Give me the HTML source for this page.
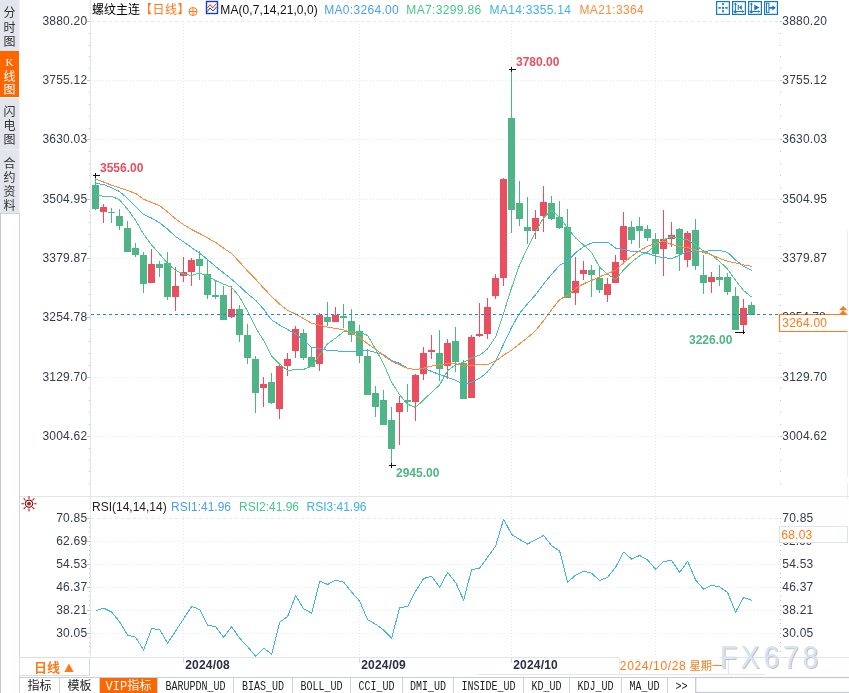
<!DOCTYPE html><html><head><meta charset="utf-8"><title>螺纹主连 日线</title>
<style>html,body{margin:0;padding:0;background:#fff}body{width:849px;height:693px;overflow:hidden;position:relative;font-family:"Liberation Sans","Noto Sans CJK SC",sans-serif}svg{position:absolute;left:0;top:0;display:block}text{font-family:"Liberation Sans","Noto Sans CJK SC",sans-serif}.mono{font-family:"Liberation Mono","Noto Sans CJK SC",monospace}</style></head><body>
<svg width="849" height="693" viewBox="0 0 849 693">
<rect width="849" height="693" fill="#fff"/>
<g id="sidebar">
<rect x="0" y="0" width="19.5" height="51" fill="#e3e5ec"/>
<rect x="0" y="51" width="19" height="46" fill="#ff6600"/>
<rect x="0" y="98" width="19.5" height="51" fill="#e3e5ec"/>
<rect x="0" y="150" width="19.5" height="63" fill="#e3e5ec"/>
<rect x="0" y="149" width="19.5" height="1" fill="#eef0f4"/>
<rect x="0.5" y="213.5" width="19" height="480" fill="#fff" stroke="#cfd6e0"/><rect x="0" y="213" width="1" height="480" fill="#c3cad5"/>
<text x="9.5" y="17.4" font-size="12" fill="#333" text-anchor="middle">分</text>
<text x="9.5" y="31.7" font-size="12" fill="#333" text-anchor="middle">时</text>
<text x="9.5" y="45.9" font-size="12" fill="#333" text-anchor="middle">图</text>
<text x="9.5" y="65.6" font-size="11" fill="#fff" text-anchor="middle" style="font-family:&quot;Liberation Serif&quot;,serif">K</text>
<text x="9.5" y="81.0" font-size="12" fill="#fff" text-anchor="middle">线</text>
<text x="9.5" y="94.4" font-size="12" fill="#fff" text-anchor="middle">图</text>
<text x="9.5" y="115.7" font-size="12" fill="#333" text-anchor="middle">闪</text>
<text x="9.5" y="130.1" font-size="12" fill="#333" text-anchor="middle">电</text>
<text x="9.5" y="143.7" font-size="12" fill="#333" text-anchor="middle">图</text>
<text x="9.5" y="168" font-size="12" fill="#333" text-anchor="middle">合</text>
<text x="9.5" y="181.9" font-size="12" fill="#333" text-anchor="middle">约</text>
<text x="9.5" y="195.9" font-size="12" fill="#333" text-anchor="middle">资</text>
<text x="9.5" y="210.1" font-size="12" fill="#333" text-anchor="middle">料</text>
</g>
<g id="grid" stroke="#e3eaf1" stroke-width="1" shape-rendering="crispEdges">
<line x1="91" y1="21.5" x2="779" y2="21.5" stroke-dasharray="3 3"/>
<line x1="91" y1="80.5" x2="779" y2="80.5" stroke-dasharray="1 2"/>
<line x1="91" y1="139.5" x2="779" y2="139.5" stroke-dasharray="1 2"/>
<line x1="91" y1="199.5" x2="779" y2="199.5" stroke-dasharray="1 2"/>
<line x1="91" y1="258.5" x2="779" y2="258.5" stroke-dasharray="1 2"/>
<line x1="91" y1="317.5" x2="779" y2="317.5" stroke-dasharray="1 2"/>
<line x1="91" y1="377.5" x2="779" y2="377.5" stroke-dasharray="1 2"/>
<line x1="91" y1="436.5" x2="779" y2="436.5" stroke-dasharray="1 2"/>
<line x1="183.5" y1="21" x2="183.5" y2="657" stroke-dasharray="1 2" stroke="#e3eaf1"/>
<line x1="359.5" y1="21" x2="359.5" y2="657" stroke-dasharray="1 2" stroke="#e3eaf1"/>
<line x1="511.5" y1="21" x2="511.5" y2="657" stroke-dasharray="1 2" stroke="#e3eaf1"/>
<line x1="655.5" y1="21" x2="655.5" y2="657" stroke-dasharray="1 2" stroke="#e3eaf1"/>
</g>
<g stroke="#dfe6ee" shape-rendering="crispEdges">
<line x1="90.5" y1="0" x2="90.5" y2="657"/>
<line x1="19" y1="657.5" x2="849" y2="657.5"/>
<line x1="20" y1="496.5" x2="849" y2="496.5"/>
<line x1="847.5" y1="231" x2="847.5" y2="477" stroke="#e9eef4"/>
<line x1="847.5" y1="483" x2="847.5" y2="499" stroke="#e9eef4"/>
</g>
<g fill="#bcc5cf">
<rect x="87" y="21" width="3" height="1"/><rect x="780" y="21" width="2" height="1"/>
<rect x="89" y="33" width="1" height="1"/><rect x="780" y="33" width="1" height="1"/>
<rect x="89" y="45" width="1" height="1"/><rect x="780" y="45" width="1" height="1"/>
<rect x="89" y="56" width="1" height="1"/><rect x="780" y="56" width="1" height="1"/>
<rect x="89" y="68" width="1" height="1"/><rect x="780" y="68" width="1" height="1"/>
<rect x="87" y="80" width="3" height="1"/><rect x="780" y="80" width="2" height="1"/>
<rect x="89" y="92" width="1" height="1"/><rect x="780" y="92" width="1" height="1"/>
<rect x="89" y="104" width="1" height="1"/><rect x="780" y="104" width="1" height="1"/>
<rect x="89" y="116" width="1" height="1"/><rect x="780" y="116" width="1" height="1"/>
<rect x="89" y="128" width="1" height="1"/><rect x="780" y="128" width="1" height="1"/>
<rect x="87" y="139" width="3" height="1"/><rect x="780" y="139" width="2" height="1"/>
<rect x="89" y="151" width="1" height="1"/><rect x="780" y="151" width="1" height="1"/>
<rect x="89" y="163" width="1" height="1"/><rect x="780" y="163" width="1" height="1"/>
<rect x="89" y="175" width="1" height="1"/><rect x="780" y="175" width="1" height="1"/>
<rect x="89" y="187" width="1" height="1"/><rect x="780" y="187" width="1" height="1"/>
<rect x="87" y="199" width="3" height="1"/><rect x="780" y="199" width="2" height="1"/>
<rect x="89" y="211" width="1" height="1"/><rect x="780" y="211" width="1" height="1"/>
<rect x="89" y="222" width="1" height="1"/><rect x="780" y="222" width="1" height="1"/>
<rect x="89" y="234" width="1" height="1"/><rect x="780" y="234" width="1" height="1"/>
<rect x="89" y="246" width="1" height="1"/><rect x="780" y="246" width="1" height="1"/>
<rect x="87" y="258" width="3" height="1"/><rect x="780" y="258" width="2" height="1"/>
<rect x="89" y="270" width="1" height="1"/><rect x="780" y="270" width="1" height="1"/>
<rect x="89" y="282" width="1" height="1"/><rect x="780" y="282" width="1" height="1"/>
<rect x="89" y="294" width="1" height="1"/><rect x="780" y="294" width="1" height="1"/>
<rect x="89" y="305" width="1" height="1"/><rect x="780" y="305" width="1" height="1"/>
<rect x="87" y="317" width="3" height="1"/><rect x="780" y="317" width="2" height="1"/>
<rect x="89" y="329" width="1" height="1"/><rect x="780" y="329" width="1" height="1"/>
<rect x="89" y="341" width="1" height="1"/><rect x="780" y="341" width="1" height="1"/>
<rect x="89" y="353" width="1" height="1"/><rect x="780" y="353" width="1" height="1"/>
<rect x="89" y="365" width="1" height="1"/><rect x="780" y="365" width="1" height="1"/>
<rect x="87" y="377" width="3" height="1"/><rect x="780" y="377" width="2" height="1"/>
<rect x="89" y="388" width="1" height="1"/><rect x="780" y="388" width="1" height="1"/>
<rect x="89" y="400" width="1" height="1"/><rect x="780" y="400" width="1" height="1"/>
<rect x="89" y="412" width="1" height="1"/><rect x="780" y="412" width="1" height="1"/>
<rect x="89" y="424" width="1" height="1"/><rect x="780" y="424" width="1" height="1"/>
<rect x="87" y="436" width="3" height="1"/><rect x="780" y="436" width="2" height="1"/>
<rect x="89" y="448" width="1" height="1"/><rect x="780" y="448" width="1" height="1"/>
<rect x="89" y="460" width="1" height="1"/><rect x="780" y="460" width="1" height="1"/>
<rect x="89" y="471" width="1" height="1"/><rect x="780" y="471" width="1" height="1"/>
<rect x="89" y="483" width="1" height="1"/><rect x="780" y="483" width="1" height="1"/>
<rect x="87" y="518" width="3" height="1"/><rect x="780" y="518" width="1" height="1"/>
<rect x="89" y="522" width="1" height="1"/><rect x="780" y="522" width="1" height="1"/>
<rect x="89" y="527" width="1" height="1"/><rect x="780" y="527" width="1" height="1"/>
<rect x="89" y="531" width="1" height="1"/><rect x="780" y="531" width="1" height="1"/>
<rect x="89" y="536" width="1" height="1"/><rect x="780" y="536" width="1" height="1"/>
<rect x="87" y="541" width="3" height="1"/><rect x="780" y="541" width="1" height="1"/>
<rect x="89" y="545" width="1" height="1"/><rect x="780" y="545" width="1" height="1"/>
<rect x="89" y="550" width="1" height="1"/><rect x="780" y="550" width="1" height="1"/>
<rect x="89" y="554" width="1" height="1"/><rect x="780" y="554" width="1" height="1"/>
<rect x="89" y="559" width="1" height="1"/><rect x="780" y="559" width="1" height="1"/>
<rect x="87" y="564" width="3" height="1"/><rect x="780" y="564" width="1" height="1"/>
<rect x="89" y="568" width="1" height="1"/><rect x="780" y="568" width="1" height="1"/>
<rect x="89" y="573" width="1" height="1"/><rect x="780" y="573" width="1" height="1"/>
<rect x="89" y="577" width="1" height="1"/><rect x="780" y="577" width="1" height="1"/>
<rect x="89" y="582" width="1" height="1"/><rect x="780" y="582" width="1" height="1"/>
<rect x="87" y="587" width="3" height="1"/><rect x="780" y="587" width="1" height="1"/>
<rect x="89" y="591" width="1" height="1"/><rect x="780" y="591" width="1" height="1"/>
<rect x="89" y="596" width="1" height="1"/><rect x="780" y="596" width="1" height="1"/>
<rect x="89" y="600" width="1" height="1"/><rect x="780" y="600" width="1" height="1"/>
<rect x="89" y="605" width="1" height="1"/><rect x="780" y="605" width="1" height="1"/>
<rect x="87" y="610" width="3" height="1"/><rect x="780" y="610" width="1" height="1"/>
<rect x="89" y="614" width="1" height="1"/><rect x="780" y="614" width="1" height="1"/>
<rect x="89" y="619" width="1" height="1"/><rect x="780" y="619" width="1" height="1"/>
<rect x="89" y="623" width="1" height="1"/><rect x="780" y="623" width="1" height="1"/>
<rect x="89" y="628" width="1" height="1"/><rect x="780" y="628" width="1" height="1"/>
<rect x="87" y="633" width="3" height="1"/><rect x="780" y="633" width="1" height="1"/>
<rect x="89" y="637" width="1" height="1"/><rect x="780" y="637" width="1" height="1"/>
<rect x="89" y="642" width="1" height="1"/><rect x="780" y="642" width="1" height="1"/>
<rect x="89" y="646" width="1" height="1"/><rect x="780" y="646" width="1" height="1"/>
<rect x="89" y="651" width="1" height="1"/><rect x="780" y="651" width="1" height="1"/>
</g>
<g font-size="12" fill="#333b4d" letter-spacing="0.22">
<text x="87.3" y="25.4" text-anchor="end">3880.20</text>
<text x="782.3" y="25.4">3880.20</text>
<text x="87.3" y="84.4" text-anchor="end">3755.12</text>
<text x="782.3" y="84.4">3755.12</text>
<text x="87.3" y="143.4" text-anchor="end">3630.03</text>
<text x="782.3" y="143.4">3630.03</text>
<text x="87.3" y="203.4" text-anchor="end">3504.95</text>
<text x="782.3" y="203.4">3504.95</text>
<text x="87.3" y="262.4" text-anchor="end">3379.87</text>
<text x="782.3" y="262.4">3379.87</text>
<text x="87.3" y="321.4" text-anchor="end">3254.78</text>
<text x="87.3" y="381.4" text-anchor="end">3129.70</text>
<text x="782.3" y="381.4">3129.70</text>
<text x="87.3" y="440.4" text-anchor="end">3004.62</text>
<text x="782.3" y="440.4">3004.62</text>
</g>
<g font-size="12">
<text x="92" y="14" fill="#000">螺纹主连</text>
<text x="140" y="14" fill="#ff7a1a" letter-spacing="0.5">【日线】</text>
<g stroke="#ff7a1a" fill="none" stroke-width="1"><circle cx="193" cy="11.5" r="4"/><line x1="189" y1="11.5" x2="197" y2="11.5"/><line x1="193" y1="7.5" x2="193" y2="15.5"/></g>
<g><rect x="206.5" y="1.5" width="11" height="12" fill="#fff" stroke="#1a3fb0" stroke-width="1.4"/><polyline points="207.5,8 210,4.5 212.5,8 216.5,3.5" fill="none" stroke="#e33" stroke-width="1"/><polyline points="207.5,11.5 210,8 213,11 216.5,7" fill="none" stroke="#1a3fb0" stroke-width="1"/></g>
<text x="220.3" y="13.6" fill="#111" textLength="97.5">MA(0,7,14,21,0,0)</text>
<text x="324.2" y="13.6" fill="#4a9ff0" textLength="74.5">MA0:3264.00</text>
<text x="406.3" y="13.6" fill="#43c88e" textLength="74.8">MA7:3299.86</text>
<text x="489.6" y="13.6" fill="#3cb2e8" textLength="81.3">MA14:3355.14</text>
<text x="579.5" y="13.6" fill="#ff8c3a" textLength="64.2">MA21:3364</text>
</g>
<g stroke="#1677c8" fill="none" stroke-width="1.2">
<rect x="716.6" y="1.6" width="12.8" height="12.8"/>
<rect x="732.6" y="1.6" width="12.8" height="12.8"/>
<rect x="748.6" y="1.6" width="12.8" height="12.8"/>
<rect x="764.6" y="1.6" width="12.8" height="12.8"/>
</g>
<g fill="#1677c8" stroke="none">
<rect x="722.2" y="3" width="1.6" height="2.2"/><rect x="722.2" y="10" width="1.6" height="2.4"/><rect x="718.4" y="7.1" width="2.4" height="1.6"/><rect x="725.2" y="7.1" width="2.5" height="1.6"/><rect x="722" y="6.9" width="2" height="2"/>
<rect x="734.9" y="3.5" width="1" height="9"/><rect x="734.4" y="11" width="9" height="1"/>
<path d="M735.4 2.6 L737 4.6 L733.8 4.6Z M735.4 13.4 L737 11.9 L733.8 11.9Z"/>
<path d="M744.2 11.5 L742.4 9.9 L742.4 13.1Z M733.4 11.5 L735 10.2 L735 12.8Z"/>
<rect x="750.9" y="3.5" width="1" height="9"/><rect x="750.4" y="11" width="9" height="1"/>
<path d="M751.4 2.6 L753 4.6 L749.8 4.6Z M751.4 13.4 L753 11.9 L749.8 11.9Z"/>
<path d="M760.2 11.5 L758.4 9.9 L758.4 13.1Z M749.4 11.5 L751 10.2 L751 12.8Z"/>
<rect x="737.7" y="4.9" width="1.1" height="5"/><path d="M739 7.4 L741.8 4.9 L741.8 9.9Z"/>
<path d="M754.3 4.7 L759.6 7.6 L754.3 10.5Z"/>
<rect x="766.5" y="3.2" width="2.4" height="9.2" fill="none" stroke="#1677c8" stroke-width="1"/><rect x="769" y="7" width="4" height="1.7"/><path d="M772.4 5.2 L775.8 7.85 L772.4 10.5Z"/>
</g>
<g id="candles" shape-rendering="crispEdges">
<rect x="95" y="176" width="1" height="34" fill="#4fb586"/>
<rect x="92" y="185" width="7" height="24" fill="#4fb586"/>
<rect x="103" y="204" width="1" height="19" fill="#ea4e5f"/>
<rect x="100" y="207" width="7" height="5" fill="#ea4e5f"/>
<rect x="111" y="208" width="1" height="15" fill="#4fb586"/>
<rect x="108" y="212" width="7" height="1" fill="#4fb586"/>
<rect x="119" y="209" width="1" height="21" fill="#4fb586"/>
<rect x="116" y="216" width="7" height="10" fill="#4fb586"/>
<rect x="127" y="221" width="1" height="31" fill="#4fb586"/>
<rect x="124" y="228" width="7" height="24" fill="#4fb586"/>
<rect x="135" y="243" width="1" height="14" fill="#4fb586"/>
<rect x="132" y="248" width="7" height="7" fill="#4fb586"/>
<rect x="143" y="252" width="1" height="41" fill="#4fb586"/>
<rect x="140" y="255" width="7" height="29" fill="#4fb586"/>
<rect x="151" y="249" width="1" height="34" fill="#ea4e5f"/>
<rect x="148" y="264" width="7" height="19" fill="#ea4e5f"/>
<rect x="159" y="261" width="1" height="16" fill="#4fb586"/>
<rect x="156" y="264" width="7" height="4" fill="#4fb586"/>
<rect x="167" y="252" width="1" height="48" fill="#4fb586"/>
<rect x="164" y="263" width="7" height="34" fill="#4fb586"/>
<rect x="175" y="267" width="1" height="44" fill="#ea4e5f"/>
<rect x="172" y="286" width="7" height="11" fill="#ea4e5f"/>
<rect x="183" y="257" width="1" height="25" fill="#ea4e5f"/>
<rect x="180" y="272" width="7" height="4" fill="#ea4e5f"/>
<rect x="191" y="258" width="1" height="28" fill="#ea4e5f"/>
<rect x="188" y="260" width="7" height="12" fill="#ea4e5f"/>
<rect x="199" y="251" width="1" height="29" fill="#4fb586"/>
<rect x="196" y="259" width="7" height="7" fill="#4fb586"/>
<rect x="207" y="259" width="1" height="40" fill="#4fb586"/>
<rect x="204" y="274" width="7" height="21" fill="#4fb586"/>
<rect x="215" y="280" width="1" height="19" fill="#4fb586"/>
<rect x="212" y="295" width="7" height="2" fill="#4fb586"/>
<rect x="223" y="286" width="1" height="34" fill="#4fb586"/>
<rect x="220" y="295" width="7" height="25" fill="#4fb586"/>
<rect x="231" y="286" width="1" height="32" fill="#ea4e5f"/>
<rect x="228" y="309" width="7" height="8" fill="#ea4e5f"/>
<rect x="239" y="305" width="1" height="37" fill="#4fb586"/>
<rect x="236" y="309" width="7" height="26" fill="#4fb586"/>
<rect x="247" y="324" width="1" height="40" fill="#4fb586"/>
<rect x="244" y="335" width="7" height="23" fill="#4fb586"/>
<rect x="255" y="356" width="1" height="57" fill="#4fb586"/>
<rect x="252" y="359" width="7" height="34" fill="#4fb586"/>
<rect x="263" y="377" width="1" height="30" fill="#ea4e5f"/>
<rect x="260" y="384" width="7" height="4" fill="#ea4e5f"/>
<rect x="271" y="373" width="1" height="31" fill="#4fb586"/>
<rect x="268" y="382" width="7" height="21" fill="#4fb586"/>
<rect x="279" y="364" width="1" height="55" fill="#ea4e5f"/>
<rect x="276" y="366" width="7" height="43" fill="#ea4e5f"/>
<rect x="287" y="353" width="1" height="23" fill="#ea4e5f"/>
<rect x="284" y="359" width="7" height="7" fill="#ea4e5f"/>
<rect x="295" y="326" width="1" height="32" fill="#ea4e5f"/>
<rect x="292" y="329" width="7" height="22" fill="#ea4e5f"/>
<rect x="303" y="329" width="1" height="31" fill="#4fb586"/>
<rect x="300" y="333" width="7" height="25" fill="#4fb586"/>
<rect x="311" y="348" width="1" height="19" fill="#4fb586"/>
<rect x="308" y="357" width="7" height="10" fill="#4fb586"/>
<rect x="319" y="313" width="1" height="58" fill="#ea4e5f"/>
<rect x="316" y="315" width="7" height="49" fill="#ea4e5f"/>
<rect x="327" y="302" width="1" height="24" fill="#4fb586"/>
<rect x="324" y="317" width="7" height="5" fill="#4fb586"/>
<rect x="335" y="307" width="1" height="15" fill="#ea4e5f"/>
<rect x="332" y="315" width="7" height="7" fill="#ea4e5f"/>
<rect x="343" y="304" width="1" height="24" fill="#4fb586"/>
<rect x="340" y="316" width="7" height="2" fill="#4fb586"/>
<rect x="351" y="309" width="1" height="33" fill="#4fb586"/>
<rect x="348" y="321" width="7" height="14" fill="#4fb586"/>
<rect x="359" y="325" width="1" height="38" fill="#4fb586"/>
<rect x="356" y="331" width="7" height="25" fill="#4fb586"/>
<rect x="367" y="349" width="1" height="46" fill="#4fb586"/>
<rect x="364" y="356" width="7" height="39" fill="#4fb586"/>
<rect x="375" y="386" width="1" height="31" fill="#4fb586"/>
<rect x="372" y="393" width="7" height="14" fill="#4fb586"/>
<rect x="383" y="390" width="1" height="35" fill="#4fb586"/>
<rect x="380" y="400" width="7" height="25" fill="#4fb586"/>
<rect x="391" y="407" width="1" height="58" fill="#4fb586"/>
<rect x="388" y="420" width="7" height="29" fill="#4fb586"/>
<rect x="399" y="396" width="1" height="49" fill="#ea4e5f"/>
<rect x="396" y="403" width="7" height="9" fill="#ea4e5f"/>
<rect x="407" y="384" width="1" height="28" fill="#4fb586"/>
<rect x="404" y="400" width="7" height="2" fill="#4fb586"/>
<rect x="415" y="374" width="1" height="47" fill="#ea4e5f"/>
<rect x="412" y="375" width="7" height="27" fill="#ea4e5f"/>
<rect x="423" y="347" width="1" height="33" fill="#ea4e5f"/>
<rect x="420" y="353" width="7" height="21" fill="#ea4e5f"/>
<rect x="431" y="335" width="1" height="24" fill="#ea4e5f"/>
<rect x="428" y="350" width="7" height="2" fill="#ea4e5f"/>
<rect x="439" y="330" width="1" height="51" fill="#4fb586"/>
<rect x="436" y="353" width="7" height="16" fill="#4fb586"/>
<rect x="447" y="339" width="1" height="40" fill="#ea4e5f"/>
<rect x="444" y="343" width="7" height="23" fill="#ea4e5f"/>
<rect x="455" y="327" width="1" height="45" fill="#4fb586"/>
<rect x="452" y="341" width="7" height="21" fill="#4fb586"/>
<rect x="463" y="360" width="1" height="39" fill="#4fb586"/>
<rect x="460" y="363" width="7" height="36" fill="#4fb586"/>
<rect x="471" y="335" width="1" height="63" fill="#ea4e5f"/>
<rect x="468" y="337" width="7" height="61" fill="#ea4e5f"/>
<rect x="479" y="303" width="1" height="34" fill="#ea4e5f"/>
<rect x="476" y="334" width="7" height="2" fill="#ea4e5f"/>
<rect x="487" y="298" width="1" height="41" fill="#ea4e5f"/>
<rect x="484" y="307" width="7" height="27" fill="#ea4e5f"/>
<rect x="495" y="274" width="1" height="25" fill="#ea4e5f"/>
<rect x="492" y="278" width="7" height="18" fill="#ea4e5f"/>
<rect x="503" y="178" width="1" height="108" fill="#ea4e5f"/>
<rect x="500" y="179" width="7" height="99" fill="#ea4e5f"/>
<rect x="511" y="69" width="1" height="164" fill="#4fb586"/>
<rect x="508" y="118" width="7" height="92" fill="#4fb586"/>
<rect x="519" y="181" width="1" height="45" fill="#4fb586"/>
<rect x="516" y="203" width="7" height="16" fill="#4fb586"/>
<rect x="527" y="197" width="1" height="47" fill="#4fb586"/>
<rect x="524" y="227" width="7" height="4" fill="#4fb586"/>
<rect x="535" y="210" width="1" height="29" fill="#ea4e5f"/>
<rect x="532" y="218" width="7" height="13" fill="#ea4e5f"/>
<rect x="543" y="186" width="1" height="46" fill="#ea4e5f"/>
<rect x="540" y="202" width="7" height="14" fill="#ea4e5f"/>
<rect x="551" y="196" width="1" height="24" fill="#4fb586"/>
<rect x="548" y="203" width="7" height="16" fill="#4fb586"/>
<rect x="559" y="201" width="1" height="28" fill="#4fb586"/>
<rect x="556" y="217" width="7" height="11" fill="#4fb586"/>
<rect x="567" y="209" width="1" height="89" fill="#4fb586"/>
<rect x="564" y="227" width="7" height="71" fill="#4fb586"/>
<rect x="575" y="257" width="1" height="48" fill="#ea4e5f"/>
<rect x="572" y="281" width="7" height="12" fill="#ea4e5f"/>
<rect x="583" y="261" width="1" height="19" fill="#ea4e5f"/>
<rect x="580" y="270" width="7" height="4" fill="#ea4e5f"/>
<rect x="591" y="265" width="1" height="32" fill="#4fb586"/>
<rect x="588" y="270" width="7" height="5" fill="#4fb586"/>
<rect x="599" y="267" width="1" height="26" fill="#4fb586"/>
<rect x="596" y="278" width="7" height="12" fill="#4fb586"/>
<rect x="607" y="278" width="1" height="24" fill="#ea4e5f"/>
<rect x="604" y="284" width="7" height="11" fill="#ea4e5f"/>
<rect x="615" y="255" width="1" height="28" fill="#ea4e5f"/>
<rect x="612" y="262" width="7" height="21" fill="#ea4e5f"/>
<rect x="623" y="212" width="1" height="51" fill="#ea4e5f"/>
<rect x="620" y="226" width="7" height="34" fill="#ea4e5f"/>
<rect x="631" y="221" width="1" height="23" fill="#4fb586"/>
<rect x="628" y="227" width="7" height="13" fill="#4fb586"/>
<rect x="639" y="217" width="1" height="31" fill="#4fb586"/>
<rect x="636" y="226" width="7" height="5" fill="#4fb586"/>
<rect x="647" y="225" width="1" height="16" fill="#4fb586"/>
<rect x="644" y="229" width="7" height="9" fill="#4fb586"/>
<rect x="655" y="233" width="1" height="31" fill="#4fb586"/>
<rect x="652" y="239" width="7" height="15" fill="#4fb586"/>
<rect x="663" y="210" width="1" height="66" fill="#ea4e5f"/>
<rect x="660" y="239" width="7" height="10" fill="#ea4e5f"/>
<rect x="671" y="222" width="1" height="25" fill="#ea4e5f"/>
<rect x="668" y="235" width="7" height="4" fill="#ea4e5f"/>
<rect x="679" y="228" width="1" height="43" fill="#4fb586"/>
<rect x="676" y="229" width="7" height="25" fill="#4fb586"/>
<rect x="687" y="231" width="1" height="36" fill="#ea4e5f"/>
<rect x="684" y="233" width="7" height="27" fill="#ea4e5f"/>
<rect x="695" y="219" width="1" height="51" fill="#4fb586"/>
<rect x="692" y="230" width="7" height="36" fill="#4fb586"/>
<rect x="703" y="255" width="1" height="39" fill="#4fb586"/>
<rect x="700" y="275" width="7" height="8" fill="#4fb586"/>
<rect x="711" y="272" width="1" height="21" fill="#ea4e5f"/>
<rect x="708" y="277" width="7" height="5" fill="#ea4e5f"/>
<rect x="719" y="265" width="1" height="21" fill="#4fb586"/>
<rect x="716" y="277" width="7" height="3" fill="#4fb586"/>
<rect x="727" y="273" width="1" height="22" fill="#4fb586"/>
<rect x="724" y="277" width="7" height="15" fill="#4fb586"/>
<rect x="735" y="287" width="1" height="43" fill="#4fb586"/>
<rect x="732" y="296" width="7" height="34" fill="#4fb586"/>
<rect x="743" y="299" width="1" height="34" fill="#ea4e5f"/>
<rect x="740" y="308" width="7" height="17" fill="#ea4e5f"/>
<rect x="751" y="302" width="1" height="13" fill="#4fb586"/>
<rect x="748" y="305" width="7" height="10" fill="#4fb586"/>
</g>
<polyline points="95.63,194.57 103.63,196.27 111.63,196.27 119.63,199.87 127.63,209.37 135.63,220.27 143.63,234.27 151.63,244.97 159.63,253.87 167.63,263.47 175.63,270.47 183.63,273.97 191.63,275.47 199.63,272.97 207.63,276.07 215.63,280.57 223.63,284.17 231.63,287.27 239.63,297.07 247.63,311.47 255.63,327.57 263.63,340.57 271.63,356.07 279.63,364.07 287.63,370.57 295.63,369.57 303.63,369.37 311.63,366.17 319.63,355.07 327.63,343.77 335.63,338.07 343.63,331.67 351.63,331.67 359.63,332.37 367.63,335.47 375.63,349.27 383.63,363.87 391.63,382.37 399.63,394.77 407.63,404.27 415.63,407.47 423.63,399.87 431.63,392.27 439.63,384.87 447.63,370.57 455.63,364.77 463.63,362.27 471.63,357.77 479.63,355.27 487.63,348.87 495.63,336.77 503.63,313.07 511.63,287.57 519.63,264.77 527.63,247.57 535.63,232.07 543.63,217.67 551.63,210.07 559.63,217.67 567.63,227.87 575.63,238.07 583.63,245.07 591.63,252.37 599.63,267.27 607.63,274.27 615.63,279.57 623.63,269.77 631.63,262.17 639.63,255.77 647.63,251.97 655.63,244.97 663.63,239.77 671.63,236.57 679.63,238.87 687.63,239.67 695.63,244.77 703.63,251.17 711.63,254.97 719.63,261.37 727.63,269.27 735.63,280.37 743.63,290.57 751.63,297.07" fill="none" stroke="#4ec98f" stroke-width="1.0" stroke-linejoin="round" shape-rendering="crispEdges"/>
<polyline points="95.63,183.37 103.63,184.57 111.63,187.77 119.63,191.57 127.63,198.57 135.63,206.87 143.63,214.47 151.63,218.07 159.63,222.77 167.63,229.17 175.63,236.57 183.63,241.87 191.63,247.57 199.63,253.27 207.63,259.57 215.63,266.57 223.63,272.97 231.63,279.27 239.63,286.27 247.63,293.87 255.63,300.27 263.63,309.17 271.63,319.97 279.63,325.07 287.63,329.47 295.63,333.97 303.63,340.27 311.63,347.57 319.63,348.37 327.63,350.47 335.63,350.67 343.63,351.67 351.63,351.67 359.63,350.77 367.63,350.47 375.63,352.27 383.63,354.77 391.63,360.37 399.63,363.47 407.63,368.37 415.63,369.57 423.63,368.37 431.63,371.47 439.63,374.67 447.63,377.37 455.63,380.27 463.63,384.27 471.63,382.27 479.63,378.27 487.63,371.87 495.63,361.17 503.63,344.07 511.63,327.27 519.63,313.27 527.63,303.57 535.63,294.67 543.63,283.87 551.63,274.37 559.63,265.37 567.63,260.97 575.63,252.67 583.63,246.67 591.63,243.07 599.63,242.17 607.63,242.17 615.63,248.17 623.63,249.37 631.63,251.37 639.63,251.67 647.63,253.27 655.63,256.37 663.63,257.57 671.63,258.57 679.63,255.37 687.63,251.37 695.63,251.37 703.63,251.77 711.63,250.27 719.63,250.27 727.63,252.37 735.63,260.07 743.63,266.37 751.63,270.47" fill="none" stroke="#41b4e6" stroke-width="1.0" stroke-linejoin="round" shape-rendering="crispEdges"/>
<polyline points="95.63,179.27 103.63,182.07 111.63,185.27 119.63,187.77 127.63,190.67 135.63,193.47 143.63,199.27 151.63,202.47 159.63,205.57 167.63,211.97 175.63,218.97 183.63,224.67 191.63,229.57 199.63,233.57 207.63,237.97 215.63,242.47 223.63,248.17 231.63,253.67 239.63,262.07 247.63,271.07 255.63,279.27 263.63,288.17 271.63,296.47 279.63,304.07 287.63,310.47 295.63,313.87 303.63,318.67 311.63,323.17 319.63,325.07 327.63,327.27 335.63,328.47 343.63,329.77 351.63,332.97 359.63,337.37 367.63,343.77 375.63,349.27 383.63,355.57 391.63,361.27 399.63,364.77 407.63,368.37 415.63,369.57 423.63,368.07 431.63,366.17 439.63,364.57 447.63,363.67 455.63,363.47 463.63,366.07 471.63,365.17 479.63,364.77 487.63,364.47 495.63,360.97 503.63,355.27 511.63,350.17 519.63,343.77 527.63,337.57 535.63,330.57 543.63,320.57 551.63,309.57 559.63,299.67 567.63,295.07 575.63,288.47 583.63,283.87 591.63,280.37 599.63,276.77 607.63,273.57 615.63,270.37 623.63,262.77 631.63,256.37 639.63,250.67 647.63,246.27 655.63,243.07 663.63,241.07 671.63,244.47 679.63,246.47 687.63,247.67 695.63,249.87 703.63,252.37 711.63,254.97 719.63,258.37 727.63,261.37 735.63,262.97 743.63,264.87 751.63,266.27" fill="none" stroke="#ff8a3d" stroke-width="1.0" stroke-linejoin="round" shape-rendering="crispEdges"/>
<line x1="91" y1="314.5" x2="779" y2="314.5" stroke="#1a84f2" stroke-width="1" stroke-dasharray="3 3" shape-rendering="crispEdges"/>
<rect x="779" y="314" width="69" height="18" fill="#fff"/>
<path d="M847.5 314.5 L779.5 314.5 L779.5 331.5 L847.5 331.5" fill="none" stroke="#ff7a1a" stroke-width="1.2"/>
<text x="782.3" y="327.2" font-size="12" fill="#ff7a1a" letter-spacing="0.22">3264.00</text>
<path d="M839 310.3 L843.2 305.9 L847.4 310.3Z M839 314.6 L843.2 310.2 L847.4 314.6Z" fill="#ff7a1a"/>
<clipPath id="c5"><rect x="779" y="300" width="60" height="15"/></clipPath>
<text x="782.3" y="321.4" font-size="12" fill="#333b4d" clip-path="url(#c5)">3254.78</text>
<g font-size="12" font-weight="bold">
<text x="100" y="172" fill="#ea4e5f">3556.00</text>
<text x="516" y="66" fill="#ea4e5f">3780.00</text>
<text x="396" y="477" fill="#4fb586">2945.00</text>
<text x="689" y="343.5" fill="#4fb586">3226.00</text>
</g>
<g fill="#111" shape-rendering="crispEdges">
<rect x="93" y="175" width="7" height="1"/><rect x="95" y="173" width="1" height="5"/>
<rect x="509" y="69" width="7" height="1"/><rect x="511" y="67" width="1" height="5"/>
<rect x="389" y="465" width="7" height="1"/><rect x="391" y="463" width="1" height="5"/>
<rect x="735" y="332" width="10" height="1"/><rect x="743" y="330" width="1" height="4"/>
</g>
<g stroke="#e3eaf1" shape-rendering="crispEdges">
<line x1="91" y1="518.5" x2="779" y2="518.5" stroke-dasharray="3 3"/>
<line x1="91" y1="541.5" x2="779" y2="541.5" stroke-dasharray="1 2"/>
<line x1="91" y1="564.5" x2="779" y2="564.5" stroke-dasharray="1 2"/>
<line x1="91" y1="587.5" x2="779" y2="587.5" stroke-dasharray="1 2"/>
<line x1="91" y1="610.5" x2="779" y2="610.5" stroke-dasharray="1 2"/>
<line x1="91" y1="633.5" x2="779" y2="633.5" stroke-dasharray="1 2"/>
</g>
<g font-size="12" fill="#333b4d" letter-spacing="0.22">
<text x="87.3" y="522.4" text-anchor="end">70.85</text>
<text x="782.3" y="522.4">70.85</text>
<text x="87.3" y="545.4" text-anchor="end">62.69</text>
<text x="87.3" y="568.4" text-anchor="end">54.53</text>
<text x="782.3" y="568.4">54.53</text>
<text x="87.3" y="591.4" text-anchor="end">46.37</text>
<text x="782.3" y="591.4">46.37</text>
<text x="87.3" y="614.4" text-anchor="end">38.21</text>
<text x="782.3" y="614.4">38.21</text>
<text x="87.3" y="637.4" text-anchor="end">30.05</text>
<text x="782.3" y="637.4">30.05</text>
</g>
<clipPath id="c6"><rect x="779" y="543" width="60" height="6"/></clipPath>
<text x="782.3" y="545.4" font-size="12" fill="#333b4d" clip-path="url(#c6)">62.69</text>
<rect x="779.5" y="526.5" width="68" height="16" fill="#fff" stroke="#dde4ec"/>
<text x="781.3" y="538.6" font-size="12" fill="#ff7a1a" letter-spacing="0.22">68.03</text>
<g font-size="12">
<text x="92" y="511" fill="#222">RSI(14,14,14)</text>
<text x="171" y="511" fill="#4a9ff0">RSI1:41.96</text>
<text x="239" y="511" fill="#43c88e">RSI2:41.96</text>
<text x="306.5" y="511" fill="#3cb2e8">RSI3:41.96</text>
</g>
<g><circle cx="29" cy="503.7" r="3.7" fill="#fff" stroke="#111" stroke-width="1"/><circle cx="29" cy="503.7" r="1.9" fill="#f00"/>
<path d="M34.20 503.70L36.20 503.70M32.68 507.38L34.09 508.79M29.00 508.90L29.00 510.90M25.32 507.38L23.91 508.79M23.80 503.70L21.80 503.70M25.32 500.02L23.91 498.61M29.00 498.50L29.00 496.50M32.68 500.02L34.09 498.61" stroke="#f00" stroke-width="1.1" stroke-linecap="round" fill="none"/></g>
<polyline points="95.63,610.67 103.63,608.07 111.63,612.07 119.63,621.77 127.63,635.17 135.63,637.17 143.63,650.17 151.63,628.57 159.63,629.57 167.63,643.17 175.63,630.97 183.63,618.77 191.63,606.47 199.63,609.47 207.63,625.17 215.63,626.77 223.63,637.17 231.63,626.77 239.63,638.17 247.63,646.87 255.63,656.17 263.63,648.17 271.63,654.17 279.63,622.17 287.63,616.57 295.63,595.67 303.63,608.77 311.63,613.17 319.63,581.07 327.63,584.47 335.63,580.07 343.63,582.07 351.63,592.07 359.63,601.07 367.63,619.77 375.63,624.17 383.63,630.17 391.63,638.17 399.63,607.77 407.63,606.47 415.63,591.17 423.63,578.57 431.63,576.17 439.63,587.17 447.63,572.57 455.63,582.57 463.63,600.17 471.63,569.57 479.63,568.17 487.63,557.17 495.63,546.07 503.63,519.07 511.63,534.47 519.63,539.47 527.63,544.07 535.63,539.67 543.63,535.47 551.63,545.67 559.63,551.07 567.63,582.17 575.63,575.17 583.63,571.17 591.63,573.17 599.63,580.57 607.63,577.17 615.63,567.17 623.63,552.07 631.63,559.07 639.63,555.47 647.63,560.07 655.63,569.17 663.63,561.47 671.63,560.47 679.63,572.57 687.63,561.37 695.63,579.87 703.63,589.37 711.63,585.27 719.63,586.97 727.63,592.57 735.63,612.17 743.63,597.37 751.63,600.37" fill="none" stroke="#3fb3e6" stroke-width="1.0" stroke-linejoin="round" shape-rendering="crispEdges"/>
<rect x="19.5" y="657.5" width="70" height="18" fill="#fff" stroke="#d9dee6"/>
<text x="34" y="672" font-size="13" font-weight="bold" fill="#ff7a1a">日线</text>
<path d="M64.3 672 L69 663.6 L73.7 672Z" fill="#ff7a1a"/>
<g fill="#d3dbe4"><rect x="183" y="658" width="1" height="5"/><rect x="359" y="658" width="1" height="5"/><rect x="511" y="658" width="1" height="5"/></g>
<g font-size="12" font-weight="bold" fill="#2a3045" letter-spacing="0.2">
<text x="185.2" y="669.3">2024/08</text><text x="361.2" y="669.3">2024/09</text><text x="513.2" y="669.3">2024/10</text>
</g>
<rect x="619" y="657" width="100" height="18" fill="#fff"/>
<line x1="478" y1="674.5" x2="765" y2="674.5" stroke="#e3e6ea"/>
<line x1="728.5" y1="657" x2="728.5" y2="675" stroke="#e3e6ea"/>
<line x1="619.5" y1="657" x2="619.5" y2="675" stroke="#e8ebef"/>
<text x="619.8" y="670.4" font-size="12" fill="#ff7a1a" textLength="66" lengthAdjust="spacing">2024/10/28</text>
<text x="689.5" y="670.4" font-size="11.3" fill="#ff7a1a">星期一</text>
<line x1="19" y1="677.5" x2="849" y2="677.5" stroke="#c6ced9" stroke-width="1.2"/>
<line x1="59.5" y1="678" x2="59.5" y2="693" stroke="#cfd4dc"/>
<text x="39.5" y="689.7" font-size="12" fill="#222" text-anchor="middle">指标</text>
<line x1="99.5" y1="678" x2="99.5" y2="693" stroke="#cfd4dc"/>
<text x="79.5" y="689.7" font-size="12" fill="#222" text-anchor="middle">模板</text>
<rect x="100" y="678" width="57" height="15" fill="#ff6600"/>
<line x1="157.5" y1="678" x2="157.5" y2="693" stroke="#cfd4dc"/>
<text x="128.5" y="690" font-size="12" fill="#fff" text-anchor="middle" class="mono" textLength="46" lengthAdjust="spacingAndGlyphs">VIP指标</text>
<line x1="233.5" y1="678" x2="233.5" y2="693" stroke="#cfd4dc"/>
<text x="195.5" y="690" font-size="13" fill="#222" text-anchor="middle" class="mono" textLength="60" lengthAdjust="spacingAndGlyphs">BARUPDN_UD</text>
<line x1="292.5" y1="678" x2="292.5" y2="693" stroke="#cfd4dc"/>
<text x="263.0" y="690" font-size="13" fill="#222" text-anchor="middle" class="mono" textLength="42" lengthAdjust="spacingAndGlyphs">BIAS_UD</text>
<line x1="350.5" y1="678" x2="350.5" y2="693" stroke="#cfd4dc"/>
<text x="321.5" y="690" font-size="13" fill="#222" text-anchor="middle" class="mono" textLength="42" lengthAdjust="spacingAndGlyphs">BOLL_UD</text>
<line x1="402.5" y1="678" x2="402.5" y2="693" stroke="#cfd4dc"/>
<text x="376.5" y="690" font-size="13" fill="#222" text-anchor="middle" class="mono" textLength="36" lengthAdjust="spacingAndGlyphs">CCI_UD</text>
<line x1="453.5" y1="678" x2="453.5" y2="693" stroke="#cfd4dc"/>
<text x="428.0" y="690" font-size="13" fill="#222" text-anchor="middle" class="mono" textLength="36" lengthAdjust="spacingAndGlyphs">DMI_UD</text>
<line x1="523.5" y1="678" x2="523.5" y2="693" stroke="#cfd4dc"/>
<text x="488.5" y="690" font-size="13" fill="#222" text-anchor="middle" class="mono" textLength="54" lengthAdjust="spacingAndGlyphs">INSIDE_UD</text>
<line x1="569.5" y1="678" x2="569.5" y2="693" stroke="#cfd4dc"/>
<text x="546.5" y="690" font-size="13" fill="#222" text-anchor="middle" class="mono" textLength="30" lengthAdjust="spacingAndGlyphs">KD_UD</text>
<line x1="621.5" y1="678" x2="621.5" y2="693" stroke="#cfd4dc"/>
<text x="595.5" y="690" font-size="13" fill="#222" text-anchor="middle" class="mono" textLength="36" lengthAdjust="spacingAndGlyphs">KDJ_UD</text>
<line x1="667.5" y1="678" x2="667.5" y2="693" stroke="#cfd4dc"/>
<text x="644.5" y="690" font-size="13" fill="#222" text-anchor="middle" class="mono" textLength="30" lengthAdjust="spacingAndGlyphs">MA_UD</text>
<line x1="695.5" y1="678" x2="695.5" y2="693" stroke="#cfd4dc"/>
<text x="681.5" y="690" font-size="13" fill="#222" text-anchor="middle" class="mono" textLength="12" lengthAdjust="spacingAndGlyphs">&gt;&gt;</text>
<rect x="695.7" y="677.5" width="160" height="15" fill="#fff" stroke="#c3cbd6" stroke-width="1.3"/>
<text transform="translate(720.8,669.3) scale(0.91,1)" font-size="31" fill="#b9a898" fill-opacity="0.7" letter-spacing="4.2">FX678</text>
<text transform="translate(719.8,668.3) scale(0.91,1)" font-size="31" fill="#d6e4f5" letter-spacing="4.2">FX678</text>
</svg></body></html>
